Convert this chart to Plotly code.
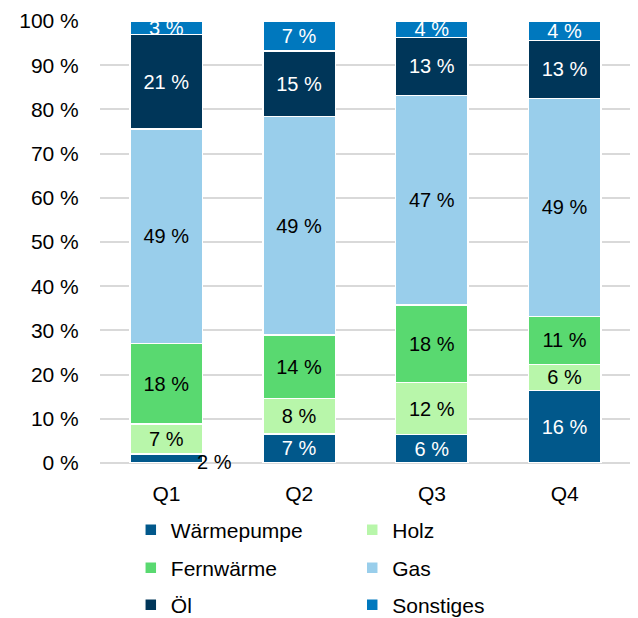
import plotly.graph_objects as go

categories = ["Q1", "Q2", "Q3", "Q4"]
waermepumpe = [2.0, 6.6, 6.4, 16.4]
holz = [6.8, 8.0, 11.8, 5.9]
fernwaerme = [18.2, 14.4, 17.6, 10.9]
gas = [48.6, 49.4, 47.4, 49.3]
oel = [21.3, 14.8, 13.1, 13.1]
sonstiges = [3.1, 6.8, 3.7, 4.4]
y_ticks = [0, 10, 20, 30, 40, 50, 60, 70, 80, 90, 100]
y_tick_labels = [f"{v} %" for v in y_ticks]

series = [
    ("Wärmepumpe", waermepumpe, "#01588b", "white"),
    ("Holz", holz, "#b8f6aa", "black"),
    ("Fernwärme", fernwaerme, "#59d970", "black"),
    ("Gas", gas, "#99ceeb", "black"),
    ("Öl", oel, "#003659", "white"),
    ("Sonstiges", sonstiges, "#0078be", "white"),
]

FONT = "Liberation Sans, Arial, sans-serif"
fig = go.Figure()
legend_ids = ["legend", "legend2", "legend3", "legend4", "legend5", "legend6"]
for i, (name, vals, color, tcol) in enumerate(series):
    if name == "Wärmepumpe":
        texts = [f"{v:.0f} %" if v >= 3 else "" for v in vals]
    else:
        texts = [f"{v:.0f} %" for v in vals]
    fig.add_trace(go.Bar(
        name=name, x=categories, y=vals, legend=legend_ids[i],
        marker=dict(color=color, line=dict(color="white", width=1.5)),
        text=texts, textposition="inside", insidetextanchor="middle",
        textfont=dict(color=tcol, size=20, family=FONT),
        textangle=0, hoverinfo="skip",
    ))

# small Wärmepumpe label in Q1 drawn beside the bar
fig.add_annotation(x=categories[0], y=waermepumpe[0] / 2, text=f"{waermepumpe[0]:.0f} %",
                   showarrow=False, xshift=48, yshift=-3,
                   font=dict(color="black", size=20, family=FONT))

# legend layout: 2 columns x 3 rows (page pixel rows of the reference)
col_x = [0.058, 0.475]
row_px = [530, 568, 605]
plot_top, plot_bottom = 21, 463
legends = {}
for i, lid in enumerate(legend_ids):
    r, c = divmod(i, 2)
    legends[lid] = dict(orientation="h", x=col_x[c], xanchor="left",
                        y=(plot_bottom - row_px[r]) / (plot_bottom - plot_top),
                        yanchor="middle", font=dict(size=21, family=FONT),
                        bgcolor="rgba(0,0,0,0)", itemwidth=30)

# page body has an 8px margin, so the figure is 8px smaller than the window
fig.update_layout(
    width=630, height=610,
    barmode="stack", bargap=0.455,
    margin=dict(l=92, r=7, t=13, b=155, autoexpand=False),
    plot_bgcolor="white", paper_bgcolor="white",
    font=dict(family=FONT, size=21, color="black"),
    uniformtext=dict(minsize=20, mode="show"),
    showlegend=True,
    xaxis=dict(showgrid=False, showline=False, ticks="outside", ticklen=12,
               tickcolor="rgba(0,0,0,0)", tickfont=dict(size=21)),
    yaxis=dict(range=[0, 100], tickvals=y_ticks, ticktext=y_tick_labels,
               showgrid=True, gridcolor="#d9d9d9", gridwidth=1.5,
               zeroline=True, zerolinecolor="#d9d9d9", zerolinewidth=1.5,
               ticks="outside", ticklen=16, tickcolor="rgba(0,0,0,0)",
               tickfont=dict(size=21)),
    **legends,
)

fig.write_html("out.html")
